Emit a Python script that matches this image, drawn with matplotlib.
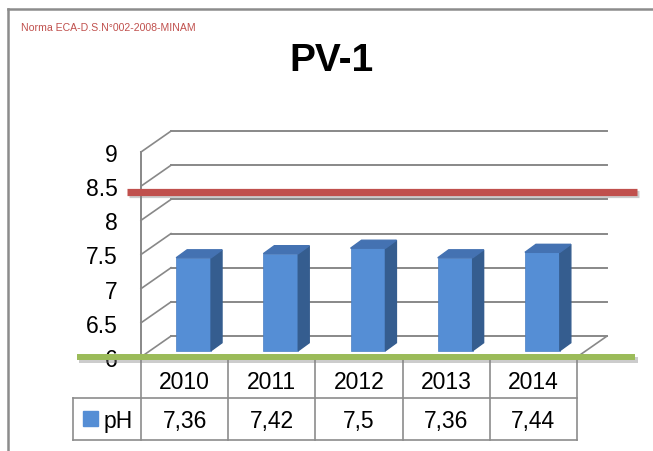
import matplotlib
matplotlib.use('Agg')
import matplotlib.pyplot as plt
import matplotlib.patheffects as pe
from matplotlib.patches import Polygon, Rectangle
from matplotlib.lines import Line2D

plt.rcParams['font.family'] = ['Liberation Sans', 'DejaVu Sans']

years = ['2010', '2011', '2012', '2013', '2014']
ph = [7.36, 7.42, 7.5, 7.36, 7.44]
yticks = [6, 6.5, 7, 7.5, 8, 8.5, 9]
ytick_labels = ['6', '6.5', '7', '7.5', '8', '8.5', '9']
eca_max = 8.42   # red line as drawn on the original
eca_min = 6.0    # green line
title = 'PV-1'
note = 'Norma ECA-D.S.N°002-2008-MINAM'

W, H = 653, 452
fig = plt.figure(figsize=(W / 100, H / 100), dpi=100)

# outer frame
fig.add_artist(Line2D([8 / W, 8 / W], [0, 1 - 10 / H], color='#8c8c8c', lw=1.8))
fig.add_artist(Line2D([8 / W, 1], [1 - 10 / H, 1 - 10 / H], color='#8c8c8c', lw=1.8))

fig.text(21 / W, 1 - 28 / H, note, color='#c0504d', fontsize=7.6, va='center', ha='left')
fig.text(331 / W, 1 - 61 / H, title, fontsize=28, fontweight='bold', ha='center', va='center')

ax = fig.add_axes([141 / W, (H - 358) / H, 436 / W, 205 / H])
ax.set_xlim(0, 5)
ax.set_ylim(6, 9)
for s in ax.spines.values():
    s.set_visible(False)
ax.set_xticks([])
ax.set_yticks(yticks, ytick_labels)
ax.tick_params(axis='y', length=0, pad=17, labelsize=16.5)
ax.patch.set_visible(False)

grid_c = '#888888'
dx, dy = 0.344, 0.306   # depth of the 3d box
# back wall gridlines and side slants
for v in yticks:
    ax.plot([dx, 5 + dx], [v + dy, v + dy], color=grid_c, lw=1.4, clip_on=False, zorder=1)
    ax.plot([0, dx], [v, v + dy], color=grid_c, lw=1.2, clip_on=False, zorder=1)
ax.plot([5, 5 + dx], [6, 6 + dy], color=grid_c, lw=1.2, clip_on=False, zorder=1)
ax.plot([0, 0], [6, 9], color=grid_c, lw=1.4, clip_on=False, zorder=2)

# 3d bars
f = 0.3
bw = 0.40
bdx, bdy = 0.126, 0.117
x = [i + 0.5 + f * dx for i in range(len(ph))]
base = 6 + f * dy
ax.bar(x, [v - 6 for v in ph], width=bw, bottom=base, color='#558ed5',
       edgecolor='#4a7fc4', lw=0.5, zorder=3, clip_on=False)
for xi, v in zip(x, ph):
    top = v - 6 + base
    xr = xi + bw / 2
    xl = xi - bw / 2
    ax.add_patch(Polygon([[xr, base], [xr + bdx, base + bdy], [xr + bdx, top + bdy], [xr, top]],
                         closed=True, color='#355d8f', zorder=3, clip_on=False))
    ax.add_patch(Polygon([[xl, top], [xr, top], [xr + bdx, top + bdy], [xl + bdx, top + bdy]],
                         closed=True, color='#4472b2', zorder=3, clip_on=False))

# norm lines
shadow = [pe.SimpleLineShadow(offset=(1.5, -2), shadow_color='gray', alpha=0.4), pe.Normal()]
ax.plot([-0.16, 5.69], [eca_max, eca_max], color='#c0504d', lw=5.2, solid_capstyle='butt',
        clip_on=False, zorder=6, path_effects=shadow)
ax.plot([-0.73, 5.67], [eca_min, eca_min], color='#9bbb59', lw=4.3, solid_capstyle='butt',
        clip_on=False, zorder=6, path_effects=shadow)

# data table
tc = '#8c8c8c'
def py(px):
    return 6 - (px - 358) / 68.33

y_top, y_mid, y_bot = py(358), py(399), py(441)
for i in range(6):
    ax.plot([i, i], [y_top, y_bot], color=tc, lw=1.2, clip_on=False, zorder=2)
ax.plot([-0.78, 5], [y_mid, y_mid], color=tc, lw=1.2, clip_on=False, zorder=2)
ax.plot([-0.78, 5], [y_bot, y_bot], color=tc, lw=1.2, clip_on=False, zorder=2)
ax.plot([-0.78, -0.78], [y_mid, y_bot], color=tc, lw=1.2, clip_on=False, zorder=2)

for i, (yr, v) in enumerate(zip(years, ph)):
    ax.text(i + 0.5, py(382), yr, ha='center', va='center', fontsize=16.5, clip_on=False)
    ax.text(i + 0.5, py(421), str(v).replace('.', ','), ha='center', va='center',
            fontsize=16.5, clip_on=False)
ax.add_patch(Rectangle((-0.665, py(427)), 0.172, py(412) - py(427), color='#558ed5',
                       clip_on=False, zorder=3))
ax.text(-0.43, py(421), 'pH', ha='left', va='center', fontsize=16.5, clip_on=False)

fig.savefig('out.png', dpi=100)
